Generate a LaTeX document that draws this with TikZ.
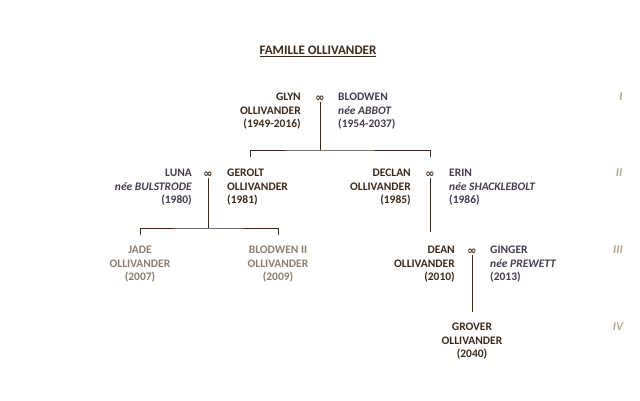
\documentclass[tikz,border=0pt]{standalone}
\usepackage{fontspec}
\setmainfont{Carlito}
\newfontfamily\symbfont{DejaVu Sans}
\usepackage{tikz}
\usetikzlibrary{positioning}
\usetikzlibrary{calc}

\definecolor{ollibrown}{HTML}{3B2A1C}
\definecolor{spousegrey}{HTML}{463B4E}
\definecolor{youngbrown}{HTML}{8B7E6E}
\definecolor{genbeige}{HTML}{B3A68F}

\begin{document}
\begin{tikzpicture}[
                x=1pt, y=-1pt,
                inner sep=0pt,
                font=\fontsize{11.5}{13.5}\selectfont\bfseries,
                person/.style={
                        text=ollibrown,
                        align=center
                    },
                spouse/.style={
                        text=spousegrey
                    },
                young/.style={
                        text=youngbrown,
                        align=center
                    },
                marr/.style={
                        text=ollibrown,
                        font=\symbfont\bfseries\fontsize{11}{11}\selectfont
                    },
                gen/.style={
                        text=genbeige,
                        font=\fontsize{12}{12}\selectfont\bfseries\itshape
                    },
                line/.style={
                        draw=ollibrown,
                        line width=0.9pt
                    }
            ]
            \useasboundingbox (0,0) rectangle (640,400);

            % Title
            \node[text=ollibrown, font=\fontsize{13}{13}\selectfont\bfseries] (title) at (318,51) {\underline{FAMILLE OLLIVANDER}};

            % Generation I
            \node[marr] (m1) at (320,98.5) {∞};
            \node[person, align=right, anchor=north east] (glyn) at (301,93) {GLYN\\OLLIVANDER\\(1949-2016)};
            \node[spouse, align=left, anchor=north west] (blodwen) at (338,93) {BLODWEN\\\textit{née ABBOT}\\(1954-2037)};

            % Generation II
            \node[marr] (m2) at (208,174.5) {∞};
            \node[spouse, align=right, anchor=north east] (luna) at (192,169) {LUNA\\\textit{née BULSTRODE}\\(1980)};
            \node[person, align=left, anchor=north west] (gerolt) at (227,169) {GEROLT\\OLLIVANDER\\(1981)};
            \node[marr] (m3) at (430,174.5) {∞};
            \node[person, align=right, anchor=north east] (declan) at (411,169) {DECLAN\\OLLIVANDER\\(1985)};
            \node[spouse, align=left, anchor=north west] (erin) at (449,169) {ERIN\\\textit{née SHACKLEBOLT}\\(1986)};

            % Generation III
            \node[young, anchor=north] (jade) at (140,246) {JADE\\OLLIVANDER\\(2007)};
            \node[young, anchor=north] (blodwen2) at (278,246) {BLODWEN II\\OLLIVANDER\\(2009)};
            \node[marr] (m4) at (472,251.5) {∞};
            \node[person, align=right, anchor=north east] (dean) at (455,246) {DEAN\\OLLIVANDER\\(2010)};
            \node[spouse, align=left, anchor=north west] (ginger) at (490,246) {GINGER\\\textit{née PREWETT}\\(2013)};

            % Generation IV
            \node[person, anchor=north] (grover) at (472,323) {GROVER\\OLLIVANDER\\(2040)};

            % Generation numbers
            \node[gen] (g1) at (621,97) {I};
            \node[gen] (g2) at (619,173) {II};
            \node[gen] (g3) at (618,250) {III};
            \node[gen] (g4) at (618,327) {IV};

            % Descent lines
            \coordinate (bar1) at (320,150);
            \coordinate (k1) at (250,157);
            \coordinate (k2) at (430,157);
            \draw[line] ([yshift=-1pt]m1.south) -- (bar1);
            \draw[line] (k1) |- (bar1) -| (k2);

            \coordinate (bar2) at (208,228);
            \coordinate (k3) at (140,235);
            \coordinate (k4) at (278,235);
            \draw[line] ([yshift=-1pt]m2.south) -- (bar2);
            \draw[line] (k3) |- (bar2) -| (k4);

            \coordinate (k5) at (430,232);
            \draw[line] ([yshift=-1pt]m3.south) -- (k5);

            \coordinate (k6) at (472,312);
            \draw[line] ([yshift=-1pt]m4.south) -- (k6);

        \end{tikzpicture}
\end{document}
